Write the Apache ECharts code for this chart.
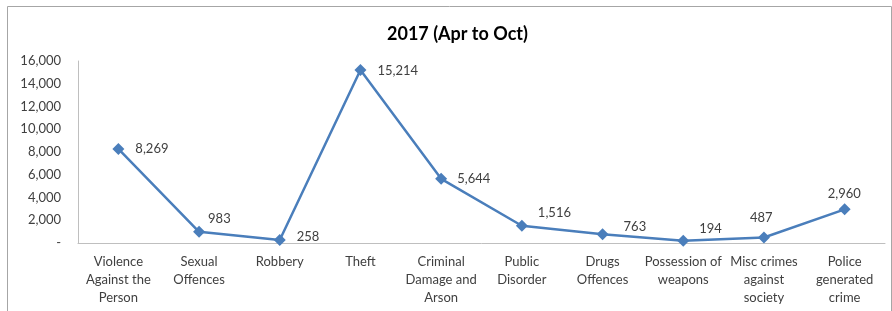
<!DOCTYPE html>
<html><head><meta charset="utf-8">
<script src="https://cdn.jsdelivr.net/npm/echarts@6/dist/echarts.min.js"></script>
<style>html,body{margin:0;padding:0;background:#fff}#c{width:892px;height:311px}</style>
</head><body><div id="c"></div>
<script>
const categories = ["Violence\nAgainst the\nPerson","Sexual\nOffences","Robbery","Theft","Criminal\nDamage and\nArson","Public\nDisorder","Drugs\nOffences","Possession of\nweapons","Misc crimes\nagainst\nsociety","Police\ngenerated\ncrime"];
const values = [8269, 983, 258, 15214, 5644, 1516, 763, 194, 487, 2960];
const yTicks = {min: 0, max: 16000, interval: 2000};
const title = "2017 (Apr to Oct)";

// label placement relative to each marker centre (style, px)
const labelOffsets = [[17,0],[9,-13],[17,-3],[17,1],[16,0],[16,-13],[21,-8],[16,-12],[-14,-20],[-17,-16]];

const font = "Lato, 'Open Sans', sans-serif";
const SYM = 12;
function fmt(v){ return v === 0 ? '-' : v.toLocaleString('en-US'); }
const data = values.map((v,i)=>({
  value:v,
  label:{position:[SYM/2+labelOffsets[i][0], SYM/2+labelOffsets[i][1]], align:'left', verticalAlign:'middle'}
}));
const chart = echarts.init(document.getElementById('c'));
chart.setOption({
  animation:false,
  title:{text:title, left:382, top:20, textStyle:{fontFamily:font, fontSize:18, fontWeight:'bold', color:'#000'}},
  graphic:[{type:'rect', shape:{x:7.5,y:6.5,width:884,height:310}, style:{fill:'none', stroke:'#a6a6a6', lineWidth:1}, silent:true}],
  grid:{left:78, right:7, top:61, bottom:68},
  xAxis:{type:'category', data:categories, boundaryGap:true,
    axisLine:{lineStyle:{color:'#bfbfbf'}}, axisTick:{show:false},
    axisLabel:{interval:0, fontFamily:font, fontSize:13, color:'#404040', lineHeight:18, margin:10}},
  yAxis:{type:'value', min:yTicks.min, max:yTicks.max, interval:yTicks.interval,
    splitLine:{show:false}, axisLine:{show:true, lineStyle:{color:'#bfbfbf'}}, axisTick:{show:false},
    axisLabel:{formatter:fmt, fontFamily:font, fontSize:13, color:'#404040', margin:17}},
  series:[{type:'line', data:data, symbol:'diamond', symbolSize:SYM,
    lineStyle:{color:'#4a7ebb', width:2.5}, itemStyle:{color:'#4a7ebb'},
    label:{show:true, formatter:p=>fmt(p.value), fontFamily:font, fontSize:13, color:'#404040'}}]
});
</script></body></html>
